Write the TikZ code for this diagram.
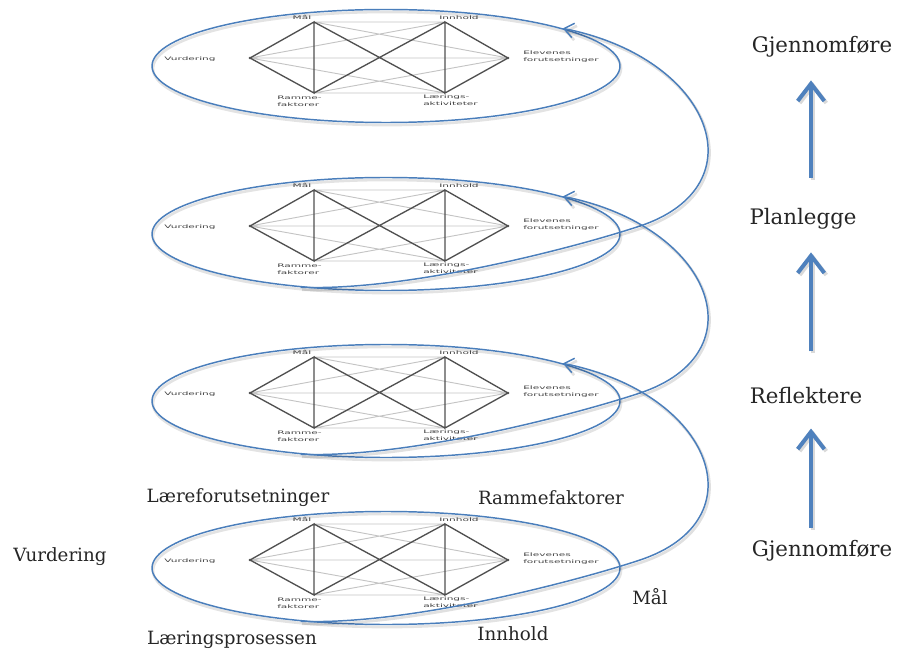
\documentclass[tikz,border=0pt]{standalone}
\usepackage{fontspec}
\setmainfont{DejaVu Serif}
\newfontfamily\minifont[FakeStretch=2.2]{DejaVu Sans}
\usetikzlibrary{shapes.geometric,arrows.meta}
\definecolor{ebl}{HTML}{4A7EBB}
\definecolor{abl}{HTML}{4F81BD}
\definecolor{txt}{HTML}{262626}
\definecolor{hexd}{HTML}{505050}
\definecolor{hexl}{HTML}{C4C4C4}
\begin{document}
\begin{tikzpicture}[x=0.75pt,y=-0.75pt,
 oval/.style={ellipse,draw=ebl,line width=1.1pt,minimum width=351pt,minimum height=84.75pt,inner sep=0pt},
 ovalshadow/.style={draw=black,opacity=0.11,line width=2pt},
 hexthick/.style={draw=hexd,line width=1pt},
 hexthin/.style={draw=hexl,line width=0.7pt},
 mini/.style={font=\minifont\fontsize{3.6}{5.2}\selectfont,text=black!75,inner sep=0pt,align=left},
 biglab/.style={font=\fontsize{16}{19}\selectfont,text=txt,inner sep=0pt},
 sidelab/.style={font=\fontsize{13.7}{16}\selectfont,text=txt,inner sep=0pt},
 conn/.style={draw=ebl,line width=1.1pt,-{Straight Barb[length=7pt,width=11pt]}},
 connshadow/.style={draw=black,opacity=0.12,line width=2pt,transform canvas={xshift=1pt,yshift=-1.8pt}},
 bigarrow/.style={draw=abl,line width=3pt,-{Straight Barb[length=13pt,width=20pt]}},
 bigshadow/.style={draw=black,opacity=0.15,transform canvas={xshift=1.5pt,yshift=-1.5pt}},
]
\useasboundingbox (0,0) rectangle (898,655);

\foreach \i/\cy in {1/66,2/234,3/401,4/568}{
  \draw[ovalshadow] (387,\cy+2.5) ellipse [x radius=175.5pt, y radius=42.4pt];
  \node[oval] (e\i) at (386,\cy) {};
  \coordinate (L\i) at (250,\cy-8);
  \coordinate (TL\i) at (314,\cy-44);
  \coordinate (TR\i) at (445,\cy-44);
  \coordinate (R\i) at (508,\cy-8);
  \coordinate (BL\i) at (314,\cy+27);
  \coordinate (BR\i) at (445,\cy+27);
  \draw[hexthin] (TL\i)--(TR\i) (BL\i)--(BR\i) (L\i)--(R\i) (L\i)--(TR\i) (L\i)--(BR\i) (R\i)--(TL\i) (R\i)--(BL\i);
  \draw[hexthick] (L\i)--(TL\i)--(BL\i)--cycle (R\i)--(TR\i)--(BR\i)--cycle (TL\i)--(BR\i) (TR\i)--(BL\i);
  \fill[hexd] (L\i) circle[radius=1.1pt] (R\i) circle[radius=1.1pt];
  \node[mini] (mv\i) at (190,\cy-7) {Vurdering};
  \node[mini] (mm\i) at (302,\cy-49) {Mål};
  \node[mini] (mi\i) at (459,\cy-48) {Innhold};
  \node[mini,anchor=west] (me\i) at (523,\cy-9.5) {Elevenes\\forutsetninger};
  \node[mini,anchor=west] (mr\i) at (277,\cy+35) {Ramme-\\faktorer};
  \node[mini,anchor=west] (ml\i) at (423,\cy+34.5) {Lærings-\\aktiviteter};
}

\foreach \s/\t/\cy in {2/1/234,3/2/401,4/3/568}{
  \draw[conn,connshadow] (e\s.212) .. controls +(110,4) and +(-60,20) .. (640,\cy-8) .. controls +(120,-40) and +(150,30) .. (e\t.12);
  \draw[conn] (e\s.212) .. controls +(110,4) and +(-60,20) .. (640,\cy-8) .. controls +(120,-40) and +(150,30) .. (e\t.12);
}

\node[biglab] (gtop) at (822,47) {Gjennomføre};
\node[biglab] (plan) at (803,219) {Planlegge};
\node[biglab] (refl) at (806,396) {Reflektere};
\node[biglab] (gbot) at (822,551) {Gjennomføre};
\coordinate (ax) at (811,0);

\draw[bigarrow,bigshadow,shorten <=23pt,shorten >=17pt] (plan.north -| ax) -- (gtop.south -| ax);
\draw[bigarrow,bigshadow,shorten <=27pt,shorten >=17pt] (refl.north -| ax) -- (plan.south -| ax);
\draw[bigarrow,bigshadow,shorten <=9.4pt,shorten >=18pt] (gbot.north -| ax) -- (refl.south -| ax);
\draw[bigarrow,shorten <=23pt,shorten >=17pt] (plan.north -| ax) -- (gtop.south -| ax);
\draw[bigarrow,shorten <=27pt,shorten >=17pt] (refl.north -| ax) -- (plan.south -| ax);
\draw[bigarrow,shorten <=9.4pt,shorten >=18pt] (gbot.north -| ax) -- (refl.south -| ax);

\node[sidelab] (lf) at (238,498) {Læreforutsetninger};
\node[sidelab] (rf) at (551,498) {Rammefaktorer};
\node[sidelab] (vu) at (60,557) {Vurdering};
\node[sidelab] (ma) at (650,597) {Mål};
\node[sidelab] (lp) at (232,640) {Læringsprosessen};
\node[sidelab] (in) at (513,634) {Innhold};
\end{tikzpicture}
\end{document}
